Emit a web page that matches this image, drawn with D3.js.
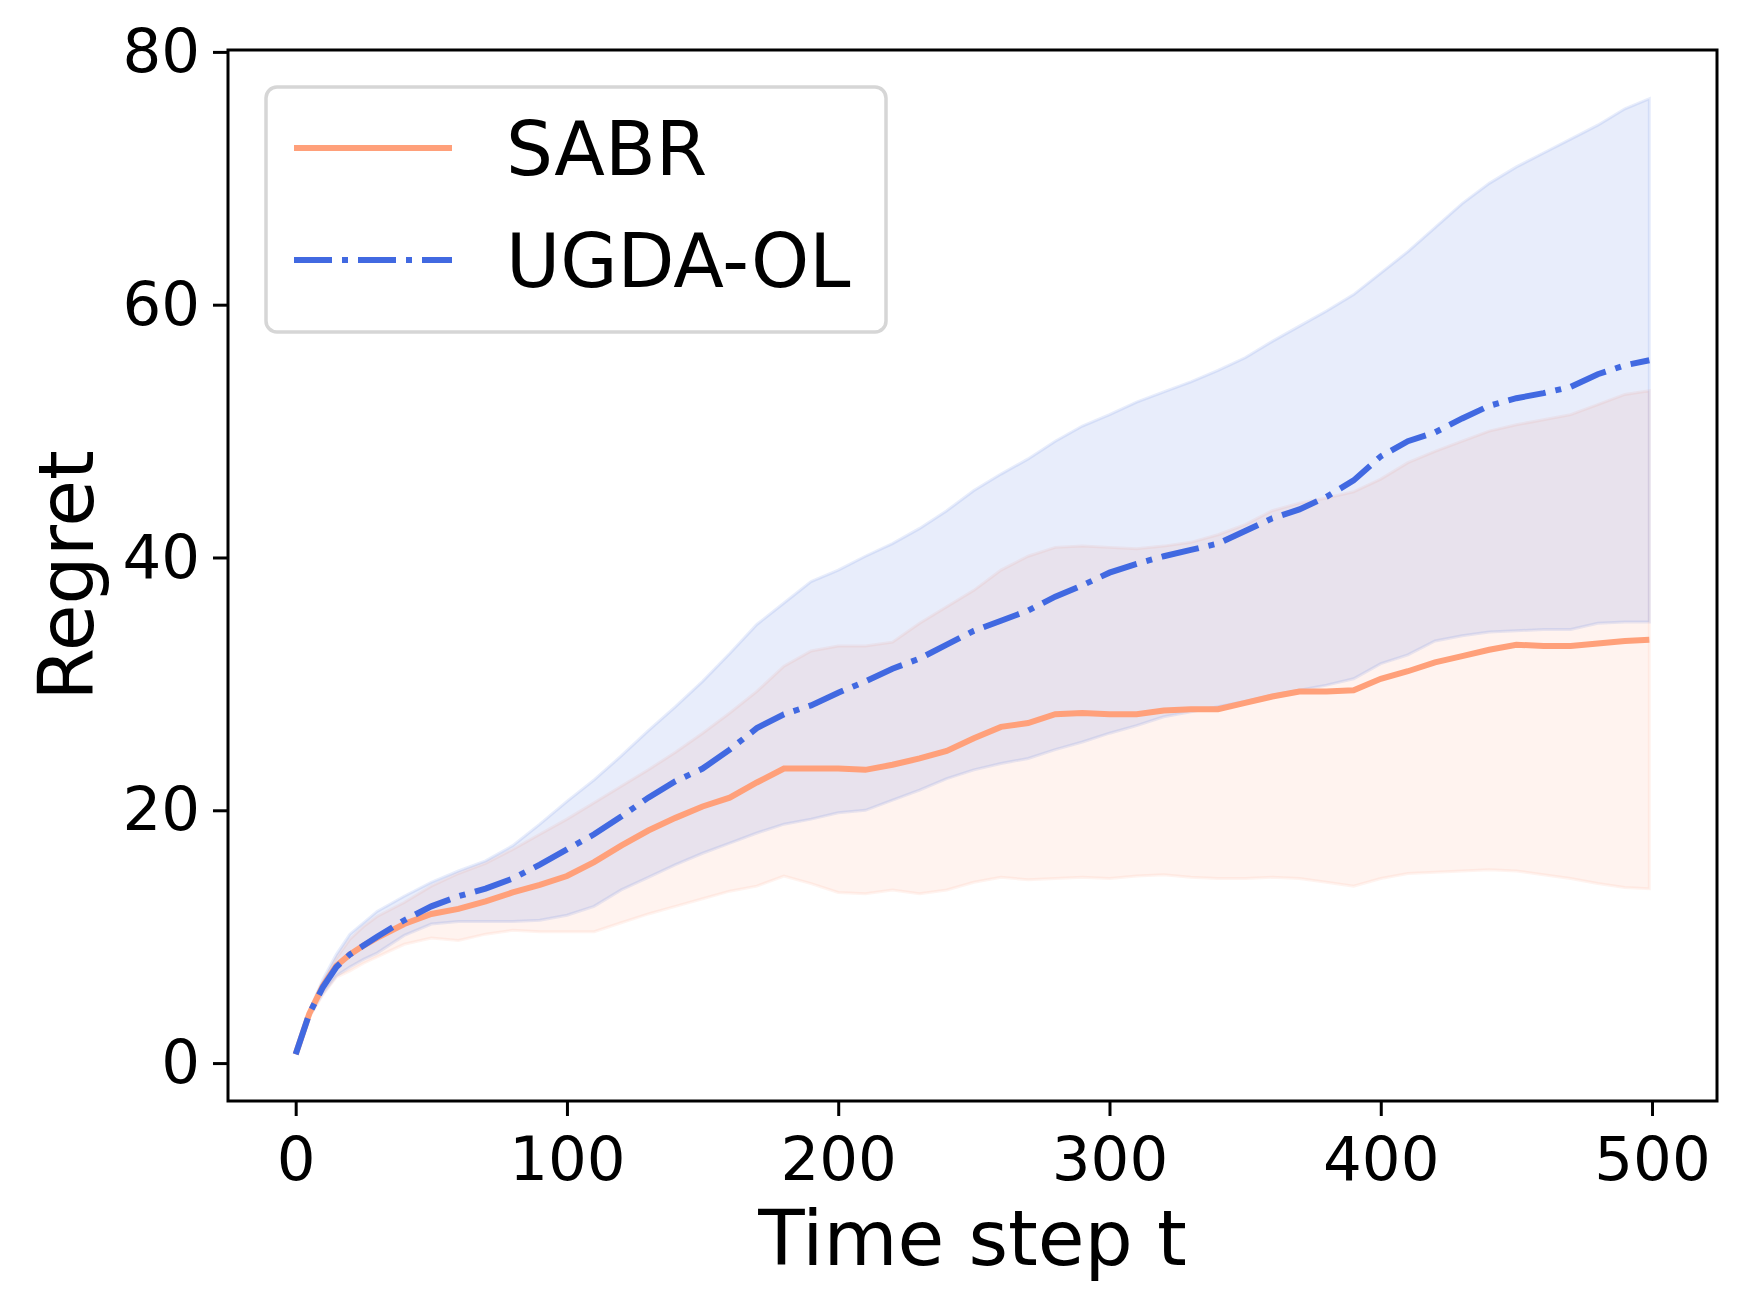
<!DOCTYPE html>
<html>
<head>
<meta charset="utf-8">
<script src="https://cdn.jsdelivr.net/npm/d3@7"></script>
<style>
  body { margin: 0; background: #fff; }
  svg { display: block; font-family: "DejaVu Sans", sans-serif; }
</style>
</head>
<body>
<div id="chart"></div>
<script>
const steps = [0, 5, 10, 15, 20, 25, 30, 40, 50, 60, 70, 80, 90, 100, 110, 120, 130, 140, 150,
    160, 170, 180, 190, 200, 210, 220, 230, 240, 250, 260, 270, 280, 290, 300, 310, 320, 330,
    340, 350, 360, 370, 380, 390, 400, 410, 420, 430, 440, 450, 460, 470, 480, 490, 499];

// SABR (mean and band)
const sabrMean = [0.7, 3.9, 6.1, 7.7, 8.6, 9.3, 9.9, 11.0, 11.8, 12.2, 12.8, 13.5, 14.1, 14.8,
    15.9, 17.2, 18.4, 19.4, 20.3, 21.0, 22.2, 23.3, 23.3, 23.3, 23.2, 23.6, 24.1, 24.7, 25.7,
    26.6, 26.9, 27.6, 27.7, 27.6, 27.6, 27.9, 28.0, 28.0, 28.5, 29.0, 29.4, 29.4, 29.5, 30.4,
    31.0, 31.7, 32.2, 32.7, 33.1, 33.0, 33.0, 33.2, 33.4, 33.5];
const sabrUpper = [0.7, 4.0, 6.4, 8.3, 9.8, 10.8, 11.6, 12.7, 14.0, 15.0, 15.8, 16.9, 18.1, 19.3,
    20.6, 21.9, 23.2, 24.6, 26.1, 27.7, 29.4, 31.4, 32.6, 33.0, 33.0, 33.3, 34.8, 36.1, 37.4,
    39.0, 40.1, 40.8, 40.9, 40.8, 40.7, 40.9, 41.2, 41.8, 42.6, 43.7, 44.3, 44.7, 45.2, 46.2,
    47.5, 48.4, 49.2, 50.0, 50.5, 50.9, 51.3, 52.1, 52.9, 53.2];
const sabrLower = [0.7, 3.6, 5.4, 6.8, 7.3, 7.9, 8.4, 9.4, 9.9, 9.7, 10.2, 10.5, 10.4, 10.4,
    10.4, 11.1, 11.8, 12.4, 13.0, 13.6, 14.0, 14.8, 14.2, 13.5, 13.4, 13.7, 13.4, 13.7, 14.3,
    14.7, 14.5, 14.6, 14.7, 14.6, 14.8, 14.9, 14.7, 14.6, 14.6, 14.7, 14.6, 14.3, 14.0, 14.6,
    15.0, 15.1, 15.2, 15.3, 15.2, 14.9, 14.6, 14.2, 13.9, 13.8];

// UGDA-OL (mean and band)
const ugdaMean = [0.7, 3.9, 6.0, 7.6, 8.6, 9.3, 10.0, 11.3, 12.4, 13.2, 13.8, 14.6, 15.7, 16.9,
    18.1, 19.5, 21.0, 22.3, 23.3, 24.8, 26.5, 27.6, 28.3, 29.3, 30.2, 31.2, 32.0, 33.1, 34.2,
    35.0, 35.8, 36.9, 37.8, 38.8, 39.5, 40.1, 40.6, 41.1, 42.1, 43.1, 43.8, 44.8, 46.1, 48.0,
    49.2, 49.9, 51.0, 52.0, 52.6, 53.0, 53.5, 54.5, 55.2, 55.6];
const ugdaUpper = [0.7, 4.1, 6.6, 8.6, 10.2, 11.1, 12.0, 13.2, 14.3, 15.2, 16.0, 17.2, 18.9, 20.7,
    22.4, 24.3, 26.3, 28.2, 30.2, 32.4, 34.7, 36.4, 38.1, 39.0, 40.1, 41.1, 42.3, 43.7, 45.3,
    46.6, 47.8, 49.2, 50.4, 51.3, 52.3, 53.1, 53.9, 54.8, 55.8, 57.1, 58.3, 59.5, 60.8, 62.5,
    64.2, 66.1, 68.0, 69.6, 70.9, 72.0, 73.1, 74.2, 75.5, 76.3];
const ugdaLower = [0.7, 3.7, 5.5, 6.9, 7.6, 8.2, 8.7, 10.1, 11.0, 11.2, 11.2, 11.2, 11.3, 11.7,
    12.4, 13.7, 14.7, 15.7, 16.6, 17.4, 18.2, 18.9, 19.3, 19.8, 20.0, 20.8, 21.6, 22.5, 23.2,
    23.7, 24.1, 24.8, 25.4, 26.1, 26.7, 27.4, 27.8, 28.2, 28.6, 29.1, 29.5, 29.9, 30.4, 31.6,
    32.3, 33.4, 33.8, 34.1, 34.2, 34.3, 34.3, 34.8, 34.9, 34.9];

const xTicks = [0, 100, 200, 300, 400, 500];
const yTicks = [0, 20, 40, 60, 80];

const series = [
    { name: 'SABR', color: '#FFA07A', mean: sabrMean, lo: sabrLower, hi: sabrUpper, dash: null },
    { name: 'UGDA-OL', color: '#4169E1', mean: ugdaMean, lo: ugdaLower, hi: ugdaUpper, dash: '38,10,6,10' }
];

const W = 1746, H = 1310;
const box = { left: 228, right: 1717, top: 50, bottom: 1101 };

const svg = d3.select('#chart').append('svg')
    .attr('width', W)
    .attr('height', H);

const x = d3.scaleLinear().domain([-24.95, 523.95]).range([box.left, box.right]);
const y = d3.scaleLinear().domain([-3.0, 80.15]).range([box.bottom, box.top]);

// bands first, then the mean lines on top
const area = d3.area()
    .x((d, i) => x(steps[i]))
    .y0(d => y(d[0]))
    .y1(d => y(d[1]));

series.forEach(s => {
    const band = steps.map((t, i) => [s.lo[i], s.hi[i]]);
    svg.append('path')
        .datum(band)
        .attr('d', area)
        .attr('fill', s.color)
        .attr('fill-opacity', 0.12)
        .attr('stroke', s.color)
        .attr('stroke-opacity', 0.12)
        .attr('stroke-width', 3);
});

const line = d3.line()
    .x((d, i) => x(steps[i]))
    .y(d => y(d));

series.forEach(s => {
    svg.append('path')
        .datum(s.mean)
        .attr('d', line)
        .attr('fill', 'none')
        .attr('stroke', s.color)
        .attr('stroke-width', 6)
        .attr('stroke-dasharray', s.dash);
});

// axes
const xAxis = svg.append('g')
    .attr('transform', `translate(0,${box.bottom})`)
    .call(d3.axisBottom(x).tickValues(xTicks).tickSize(15).tickSizeOuter(0).tickPadding(21));
const yAxis = svg.append('g')
    .attr('transform', `translate(${box.left},0)`)
    .call(d3.axisLeft(y).tickValues(yTicks).tickSize(15).tickSizeOuter(0).tickPadding(13));

[xAxis, yAxis].forEach(g => {
    g.select('.domain').remove();
    g.selectAll('.tick line').attr('stroke', '#000').attr('stroke-width', 3);
    g.selectAll('.tick text')
        .attr('fill', '#000')
        .style('font-size', '61px')
        .style('font-family', '"DejaVu Sans", sans-serif');
});

// frame
svg.append('rect')
    .attr('x', box.left)
    .attr('y', box.top)
    .attr('width', box.right - box.left)
    .attr('height', box.bottom - box.top)
    .attr('fill', 'none')
    .attr('stroke', '#000')
    .attr('stroke-width', 3);

// axis labels
svg.append('text')
    .attr('x', (box.left + box.right) / 2)
    .attr('y', 1265)
    .attr('text-anchor', 'middle')
    .style('font-size', '76px')
    .text('Time step t');

svg.append('text')
    .attr('transform', `translate(93,${(box.top + box.bottom) / 2}) rotate(-90)`)
    .attr('text-anchor', 'middle')
    .style('font-size', '76px')
    .text('Regret');

// legend
const legend = svg.append('g');
legend.append('rect')
    .attr('x', 266).attr('y', 87)
    .attr('width', 620).attr('height', 245)
    .attr('rx', 11)
    .attr('fill', '#fff')
    .attr('fill-opacity', 0.8)
    .attr('stroke', '#d6d6d6')
    .attr('stroke-width', 3.5);

series.forEach((s, i) => {
    const ly = 148 + i * 112;
    legend.append('line')
        .attr('x1', 294).attr('x2', 452)
        .attr('y1', ly).attr('y2', ly)
        .attr('stroke', s.color)
        .attr('stroke-width', 6)
        .attr('stroke-dasharray', s.dash);
    legend.append('text')
        .attr('x', 506)
        .attr('y', ly + 27)
        .style('font-size', '74px')
        .text(s.name);
});
</script>
</body>
</html>
